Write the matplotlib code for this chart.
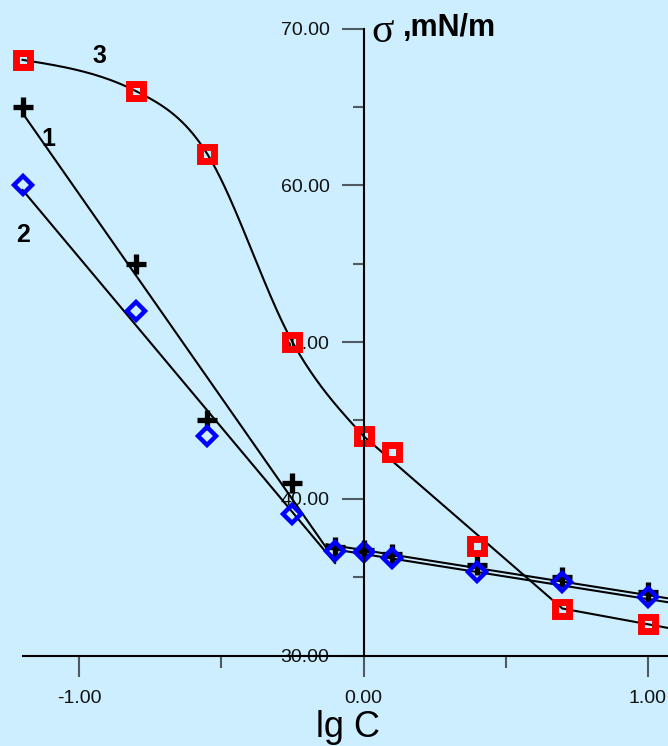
import numpy as np
import matplotlib.pyplot as plt
from matplotlib.ticker import FixedLocator, FormatStrFormatter

# surface tension vs lg C for three systems
lgc = [-1.2, -0.8, -0.55, -0.25, -0.1, 0.0, 0.1, 0.4, 0.7, 1.0]
sigma1 = [65.0, 55.0, 45.0, 41.0, 36.95, 36.75, 36.45, 35.75, 35.0, 34.05]
sigma2 = [60.0, 52.0, 44.0, 39.0, 36.7, 36.6, 36.2, 35.3, 34.72, 33.75]
lgc3 = [-1.2, -0.8, -0.55, -0.25, 0.0, 0.1, 0.4, 0.7, 1.0]
sigma3 = [68.0, 66.0, 62.0, 50.0, 44.0, 43.0, 37.0, 33.0, 32.0]

# two linear branches drawn for curves 1 and 2
steep1_x, steep1_y = [-1.2, -0.13], [64.6, 36.85]
flat1_x, flat1_y = [-0.13, 1.072], [37.1, 33.65]
steep2_x, steep2_y = [-1.2, -0.10], [59.7, 35.9]
flat2_x, flat2_y = [-0.13, 1.072], [36.85, 33.4]

xticks = [-1.0, 0.0, 1.0]
xminor = [-0.5, 0.5]
yticks = [30, 40, 50, 60, 70]
yminor = [35, 45, 55, 65]

XL, XR = -1.2795, 1.0718
YB, YT = 24.23, 71.82
bg = '#cceeff'
tick_col = '#505a62'


def smooth(xs, ys, nxt, n=40):
    # cubic hermite through the points, tangents from neighbouring points
    xs = list(xs) + [nxt[0]]
    ys = list(ys) + [nxt[1]]
    m = []
    for i in range(len(xs) - 1):
        if i == 0:
            sec = (ys[1] - ys[0]) / (xs[1] - xs[0])
            nxt_m = (ys[2] - ys[0]) / (xs[2] - xs[0])
            m.append(1.5 * sec - 0.5 * nxt_m)
        else:
            m.append((ys[i + 1] - ys[i - 1]) / (xs[i + 1] - xs[i - 1]))
    cx, cy = [], []
    for i in range(len(m) - 1):
        h = xs[i + 1] - xs[i]
        t = np.linspace(0, 1, n)
        h00 = 2 * t**3 - 3 * t**2 + 1
        h10 = t**3 - 2 * t**2 + t
        h01 = -2 * t**3 + 3 * t**2
        h11 = t**3 - t**2
        cx.extend(xs[i] + t * h)
        cy.extend(h00 * ys[i] + h10 * h * m[i] + h01 * ys[i + 1] + h11 * h * m[i + 1])
    return cx, cy


plt.rcParams['font.family'] = ['Liberation Sans', 'DejaVu Sans']

fig = plt.figure(figsize=(6.68, 7.46), dpi=100, facecolor=bg)
ax = fig.add_axes([0, 0, 1, 1], facecolor=bg)

lw = 1.5
# curve 3: smooth part up to lg C = 0, then straight segments
cx, cy = smooth(lgc3[:5], sigma3[:5], (lgc3[5], sigma3[5]))
slope = (sigma3[8] - sigma3[7]) / (lgc3[8] - lgc3[7])
tail_x = [lgc3[4], lgc3[7], lgc3[8], XR]
tail_y = [sigma3[4], sigma3[7], sigma3[8], sigma3[8] + slope * (XR - lgc3[8])]
ax.plot(cx + tail_x, cy + tail_y, color='black', lw=lw, zorder=2)

for bx, by in [(steep1_x, steep1_y), (flat1_x, flat1_y),
               (steep2_x, steep2_y), (flat2_x, flat2_y)]:
    ax.plot(bx, by, color='black', lw=lw, zorder=2)

ax.plot(lgc, sigma1, ls='none', marker='+', ms=14.5, mew=3.8, color='black', zorder=2.2)
ax.plot(lgc3, sigma3, ls='none', marker='s', ms=9.8, mew=5.0, mec='#ff0000',
        mfc='none', zorder=2.3)
ax.plot(lgc, sigma2, ls='none', marker='D', ms=9.3, mew=3.2, mec='#0000ff',
        mfc='none', zorder=2.4)

ax.set_xlim(XL, XR)
ax.set_ylim(YB, YT)

for s in ['top', 'right']:
    ax.spines[s].set_visible(False)
ax.spines['left'].set_position(('data', 0))
ax.spines['left'].set_bounds(30, 70)
ax.spines['bottom'].set_position(('data', 30))
ax.spines['bottom'].set_bounds(-1.2, XR)
for s in ['left', 'bottom']:
    ax.spines[s].set_linewidth(1.5)
    ax.spines[s].set_color('black')

ax.xaxis.set_major_locator(FixedLocator(xticks))
ax.xaxis.set_minor_locator(FixedLocator(xminor))
ax.yaxis.set_major_locator(FixedLocator(yticks))
ax.yaxis.set_minor_locator(FixedLocator(yminor))
ax.xaxis.set_major_formatter(FormatStrFormatter('%.2f'))
ax.yaxis.set_major_formatter(FormatStrFormatter('%.2f'))

ax.tick_params(axis='x', which='major', direction='out', length=15, width=1.5,
               color=tick_col, pad=10, labelsize=14, labelcolor='#111111')
ax.tick_params(axis='x', which='minor', direction='out', length=8.6, width=1.5,
               color=tick_col)
ax.tick_params(axis='y', which='major', direction='out', length=16, width=1.5,
               color=tick_col, pad=8.5, labelsize=14, labelcolor='#111111')
ax.tick_params(axis='y', which='minor', direction='out', length=8, width=1.5,
               color=tick_col)

# axis titles
ax.text(0.028, 69.12, '\u03c3', family='Liberation Serif', fontsize=30,
        ha='left', va='baseline')
ax.text(0.139, 69.52, ',mN/m', fontsize=22, fontweight='bold',
        ha='left', va='baseline')
ax.text(-0.053, 24.8, 'lg C', fontsize=26, ha='center', va='baseline')

# curve numbers
ax.text(-0.93, 67.82, '3', fontsize=18, fontweight='bold', ha='center', va='baseline')
ax.text(-1.11, 62.50, '1', fontsize=18, fontweight='bold', ha='center', va='baseline')
ax.text(-1.20, 56.40, '2', fontsize=18, fontweight='bold', ha='center', va='baseline')

fig.savefig('out.png', dpi=100, facecolor=bg)
